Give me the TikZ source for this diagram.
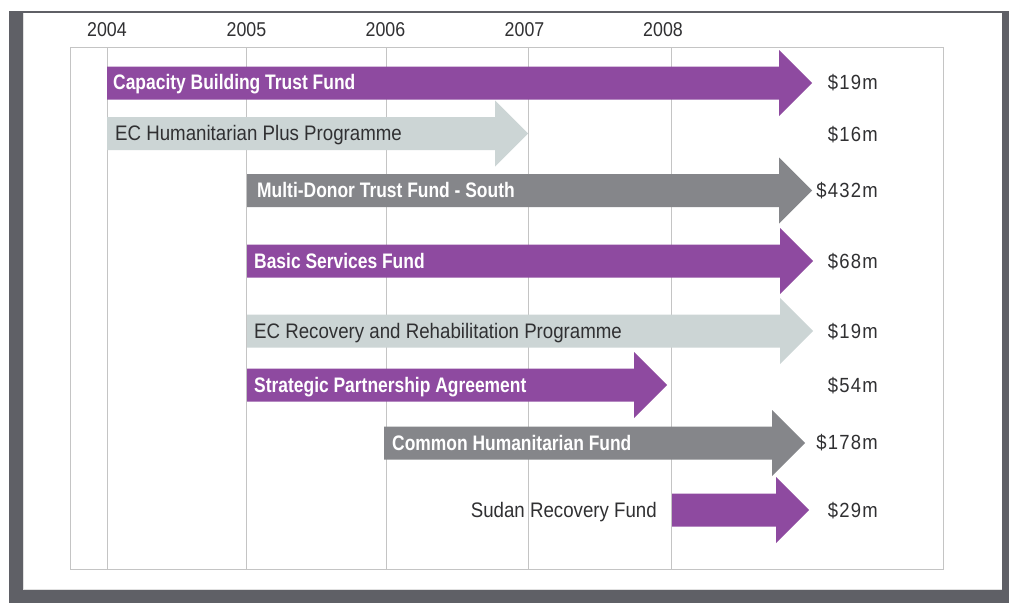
\documentclass[tikz,border=0pt]{standalone}
\usepackage{fontspec}
\setmainfont{Liberation Sans}[FakeStretch=0.89]
\newfontfamily\barfont{Liberation Sans}[FakeStretch=0.83]
\newfontfamily\sumfont{Liberation Sans}[FakeStretch=0.9,LetterSpace=6]

\definecolor{fundpurple}{RGB}{142,74,160}
\definecolor{fundgrey}{RGB}{133,134,138}
\definecolor{fundpale}{RGB}{204,213,213}
\definecolor{framegrey}{RGB}{95,96,102}
\definecolor{gridgrey}{RGB}{196,196,196}
\definecolor{inkgrey}{RGB}{48,48,50}

\begin{document}
\begin{tikzpicture}[x=1pt,y=-1pt,
  year/.style={anchor=base,inner sep=0pt,font=\fontsize{20}{22}\selectfont,text=inkgrey},
  fund/.style={anchor=base west,inner sep=0pt,font=\barfont\bfseries\fontsize{21}{24}\selectfont,text=white},
  plainfund/.style={anchor=base west,inner sep=0pt,font=\fontsize{21}{24}\selectfont,text=inkgrey},
  total/.style={anchor=base east,inner sep=0pt,font=\sumfont\fontsize{20.5}{24}\selectfont,text=inkgrey}]

\useasboundingbox (0,0) rectangle (1009,603);
\fill[white] (0,0) rectangle (1009,603);

% outer frame
\fill[framegrey] (9,11) rectangle (1009,603);
\fill[white] (23,13) rectangle (1002,590);
\draw[black!12] (23.5,13) -- (23.5,589.5) -- (1002,589.5);

% panel and year lines
\draw[gridgrey,fill=white] (70,47) rectangle (943,569);
\draw[gridgrey] (107,47) -- (107,569);
\draw[gridgrey] (246.5,47) -- (246.5,569);
\draw[gridgrey] (386.5,47) -- (386.5,569);
\draw[gridgrey] (528,47) -- (528,569);
\draw[gridgrey] (671.5,47) -- (671.5,569);

\node[year] (y2004) at (107,36.5) {2004};
\node[year] (y2005) at (246.5,36.5) {2005};
\node[year] (y2006) at (385.5,36.5) {2006};
\node[year] (y2007) at (524.5,36.5) {2007};
\node[year] (y2008) at (663,36.5) {2008};

% capacity building
\fill[fundpurple] (107,66.5) -- (779,66.5) -- (779,50) -- (812,83) -- (779,116) -- (779,99.5) -- (107,99.5) -- cycle;
\node[fund] (cbtf) at (113,89.5) {Capacity Building Trust Fund};
\node[total] (cbtf-sum) at (878,89.5) {\$19m};

% EC humanitarian plus
\fill[fundpale] (107,117) -- (495,117) -- (495,100.5) -- (528,133.5) -- (495,166.5) -- (495,150) -- (107,150) -- cycle;
\node[plainfund] (echp) at (115,140) {EC Humanitarian Plus Programme};
\node[total] (echp-sum) at (878,141) {\$16m};

% multi-donor
\fill[fundgrey] (247,174) -- (779,174) -- (779,157.5) -- (812,190.5) -- (779,223.5) -- (779,207) -- (247,207) -- cycle;
\node[fund] (mdtf) at (257,197) {Multi-Donor Trust Fund - South};
\node[total] (mdtf-sum) at (878,197.5) {\$432m};

% basic services
\fill[fundpurple] (247,244.5) -- (780,244.5) -- (780,228) -- (813,261) -- (780,294) -- (780,277.5) -- (247,277.5) -- cycle;
\node[fund] (bsf) at (254,268) {Basic Services Fund};
\node[total] (bsf-sum) at (878,268) {\$68m};

% EC recovery
\fill[fundpale] (247,314.5) -- (780,314.5) -- (780,298) -- (813,331) -- (780,364) -- (780,347.5) -- (247,347.5) -- cycle;
\node[plainfund] (ecrr) at (254,338) {EC Recovery and Rehabilitation Programme};
\node[total] (ecrr-sum) at (878,338) {\$19m};

% strategic partnership
\fill[fundpurple] (247,368.5) -- (634,368.5) -- (634,352) -- (667,385) -- (634,418) -- (634,401.5) -- (247,401.5) -- cycle;
\node[fund] (spa) at (254,392) {Strategic Partnership Agreement};
\node[total] (spa-sum) at (878,392) {\$54m};

% common humanitarian
\fill[fundgrey] (384,426.5) -- (772,426.5) -- (772,410) -- (805,443) -- (772,476) -- (772,459.5) -- (384,459.5) -- cycle;
\node[fund] (chf) at (392,450) {Common Humanitarian Fund};
\node[total] (chf-sum) at (878,449.5) {\$178m};

% sudan recovery
\fill[fundpurple] (672,493.5) -- (776,493.5) -- (776,477) -- (809,510) -- (776,543) -- (776,526.5) -- (672,526.5) -- cycle;
\node[plainfund,anchor=base east] (srf) at (657,517) {Sudan Recovery Fund};
\node[total] (srf-sum) at (878,517) {\$29m};

\end{tikzpicture}
\end{document}
